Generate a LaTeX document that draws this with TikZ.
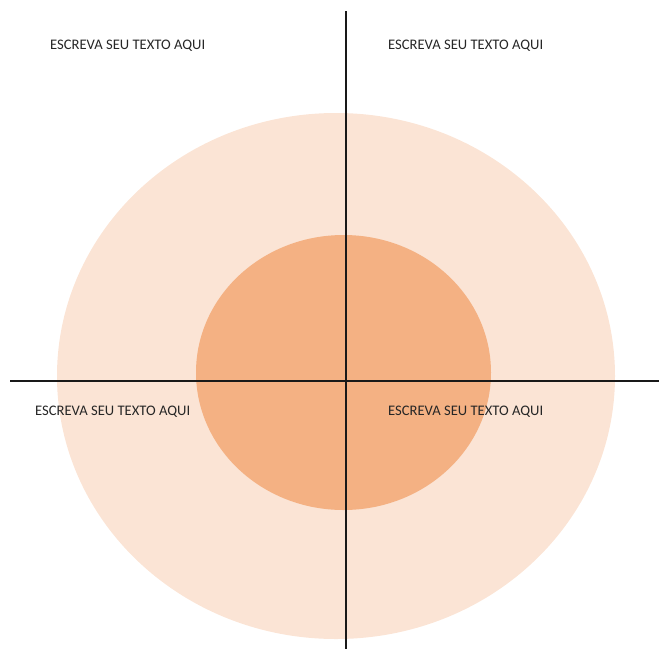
\documentclass[tikz,border=0pt]{standalone}
\usepackage{fontspec}
\setmainfont{Carlito}
\usetikzlibrary{positioning}

\definecolor{outerpeach}{HTML}{FBE4D5}
\definecolor{innerpeach}{HTML}{F4B183}

\begin{document}
\begin{tikzpicture}[
  x=1pt, y=-1pt,
  font=\fontsize{14.6}{16}\selectfont,
  label/.style={anchor=west, inner sep=0pt, text=black!85},
  axis/.style={line width=2.4pt, black!90}
]
\useasboundingbox (0,0) rectangle (659,649);
% circles
\fill[outerpeach] (336,376) ellipse [x radius=279, y radius=263];
\fill[innerpeach] (343.5,372.5) ellipse [x radius=147.5, y radius=137.5];
% axes
\coordinate (top)    at (346,11);
\coordinate (bottom) at (346,649);
\coordinate (left)   at (10,381);
\coordinate (right)  at (659,381);
\draw[axis] (top) -- (bottom);
\draw[axis] (left) -- (right);
% texts
\node[label] (tl) at (50,46)  {ESCREVA SEU TEXTO AQUI};
\node[label] (tr) at (388,46) {ESCREVA SEU TEXTO AQUI};
\node[label] (bl) at (35,412) {ESCREVA SEU TEXTO AQUI};
\node[label] (br) at (388,412) {ESCREVA SEU TEXTO AQUI};
\end{tikzpicture}
\end{document}
